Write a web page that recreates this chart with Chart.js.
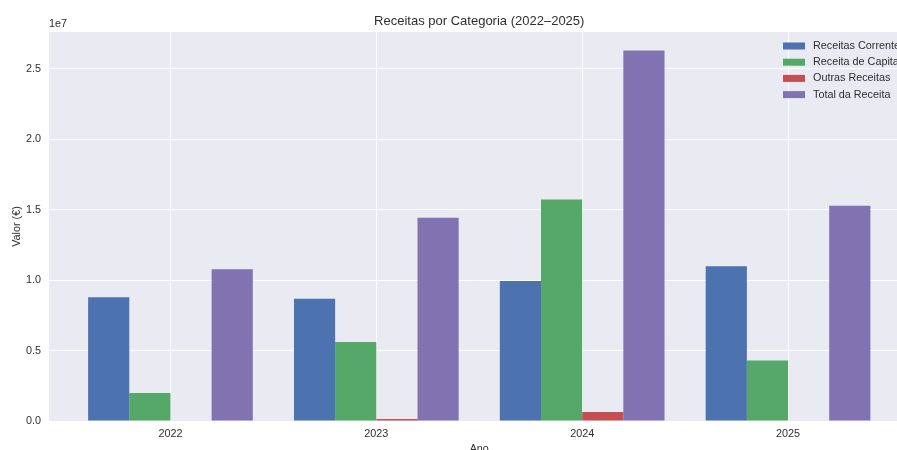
<!DOCTYPE html>
<html><head><meta charset="utf-8">
<script src="https://cdn.jsdelivr.net/npm/chart.js@4.4.1/dist/chart.umd.min.js"></script>
<style>
html,body{margin:0;padding:0;overflow:hidden;background:#fff;width:897px;height:450px}
#wrap{position:absolute;left:0;top:0;width:960px;height:470px}
</style>
</head><body><div id="wrap"><canvas id="c" width="960" height="470" style="width:960px;height:470px"></canvas></div>
<script>
const years = ['2022', '2023', '2024', '2025'];
const receitasCorrentes = [8.79e6, 8.67e6, 9.93e6, 10.98e6];
const receitaCapital = [1.99e6, 5.61e6, 15.73e6, 4.30e6];
const outrasReceitas = [0, 0.14e6, 0.64e6, 0];
const totalReceita = [10.78e6, 14.42e6, 26.30e6, 15.28e6];
const yTicks = [0, 5e6, 1e7, 1.5e7, 2e7, 2.5e7];
const seriesNames = ['Receitas Correntes', 'Receita de Capital', 'Outras Receitas', 'Total da Receita'];

const FONT = 'Liberation Sans, Arial, sans-serif';
const TXT = '#2e2e2e';
const colors = ['#4C72B0', '#55A868', '#C44E52', '#8172B2'];
const seriesValues = [receitasCorrentes, receitaCapital, outrasReceitas, totalReceita];

const datasets = seriesValues.map((arr, k) => ({
  label: seriesNames[k],
  data: arr.map((v, i) => ({x: i, y: v})),
  backgroundColor: colors[k],
  borderWidth: 0,
  categoryPercentage: 0.8,
  barPercentage: 1.0
}));

const decor = {
  id: 'decor',
  beforeDraw(chart) {
    const {ctx, chartArea: a} = chart;
    ctx.save();
    ctx.fillStyle = '#EAEAF2';
    ctx.fillRect(a.left, a.top, a.right - a.left, a.bottom - a.top);
    ctx.restore();
  },
  afterDraw(chart) {
    const {ctx, chartArea: a} = chart;
    ctx.save();
    ctx.fillStyle = TXT;
    ctx.textBaseline = 'middle';
    ctx.textAlign = 'center';
    ctx.font = '13px ' + FONT;
    ctx.fillText('Receitas por Categoria (2022\u20132025)', (a.left + a.right) / 2, 21);
    ctx.textAlign = 'left';
    ctx.font = '10.8px ' + FONT;
    ctx.fillText('1e7', a.left, 24.5);
    // legend
    const px = a.right - 126.5;
    seriesNames.forEach((n, k) => {
      const cy = 46 + k * 16.2;
      ctx.fillStyle = colors[k];
      ctx.fillRect(px, cy - 3.5, 22, 7);
      ctx.fillStyle = TXT;
      ctx.font = '10.8px ' + FONT;
      ctx.fillText(n, px + 30, cy);
    });
    ctx.restore();
  }
};

new Chart(document.getElementById('c'), {
  type: 'bar',
  data: {datasets},
  plugins: [decor],
  options: {
    responsive: false,
    animation: false,
    layout: {padding: {left: 0, right: 50.5, top: 32, bottom: 0}},
    plugins: {legend: {display: false}, title: {display: false}, tooltip: {enabled: false}},
    scales: {
      x: {
        type: 'linear', min: -0.59, max: 3.59, offset: false,
        afterBuildTicks: s => { s.ticks = years.map((_, i) => ({value: i})); },
        afterFit: s => { s.height = 49; },
        grid: {color: '#ffffff', lineWidth: 1, drawTicks: false, offset: false},
        border: {display: false},
        ticks: {padding: 7, color: TXT, autoSkip: false, maxRotation: 0,
          font: {family: FONT, size: 10.8},
          callback: v => years[v] !== undefined ? years[v] : ''},
        title: {display: true, text: 'Ano', color: TXT, font: {family: FONT, size: 10.8},
          padding: {top: 0, bottom: 14}}
      },
      y: {
        min: 0, max: Math.max(...totalReceita) * 1.05,
        afterBuildTicks: s => { s.ticks = yTicks.map(v => ({value: v})); },
        afterFit: s => { s.width = 49; },
        grid: {color: '#ffffff', lineWidth: 1, drawTicks: false},
        border: {display: false},
        ticks: {padding: 8, color: TXT, font: {family: FONT, size: 10.8},
          callback: v => (v / 1e7).toFixed(1)},
        title: {display: true, text: 'Valor (\u20AC)', color: TXT, font: {family: FONT, size: 10.8},
          padding: {top: 10.5, bottom: 0}}
      }
    }
  }
});
</script>
</body></html>
